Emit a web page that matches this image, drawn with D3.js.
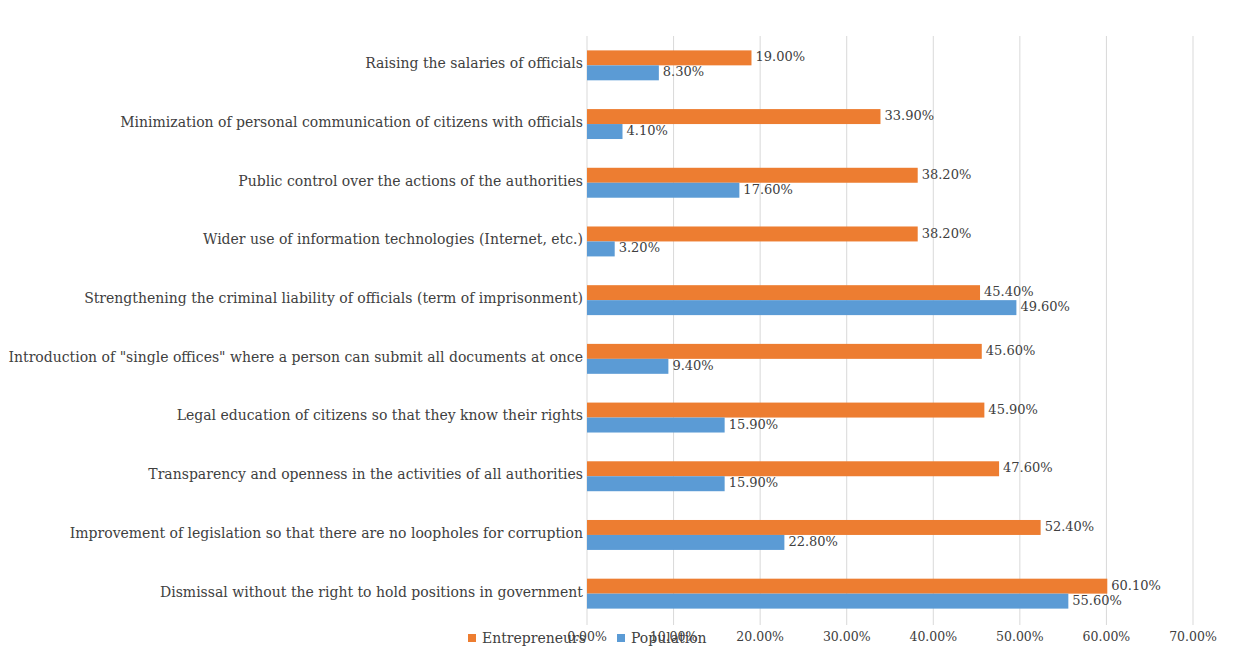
<!DOCTYPE html>
<html>
<head>
<meta charset="utf-8">
<script src="https://cdn.jsdelivr.net/npm/d3@7"></script>
<style>
  html, body { margin: 0; padding: 0; background: #fff; }
  svg text { font-family: "DejaVu Serif", "Liberation Serif", serif; fill: #404040; }
</style>
</head>
<body>
<svg id="chart" width="1234" height="671"></svg>
<script>
const categories = [
  "Raising the salaries of officials",
  "Minimization of personal communication of citizens with officials",
  "Public control over the actions of the authorities",
  "Wider use of information technologies (Internet, etc.)",
  "Strengthening the criminal liability of officials (term of imprisonment)",
  "Introduction of \"single offices\" where a person can submit all documents at once",
  "Legal education of citizens so that they know their rights",
  "Transparency and openness in the activities of all authorities",
  "Improvement of legislation so that there are no loopholes for corruption",
  "Dismissal without the right to hold positions in government"
];
const entrepreneurs = [19.0, 33.9, 38.2, 38.2, 45.4, 45.6, 45.9, 47.6, 52.4, 60.1];
const population = [8.3, 4.1, 17.6, 3.2, 49.6, 9.4, 15.9, 15.9, 22.8, 55.6];
const xTicks = [0, 10, 20, 30, 40, 50, 60, 70];
const seriesNames = ["Entrepreneurs", "Population"];
const seriesColors = ["#ED7D31", "#5B9BD5"];

const svg = d3.select("#chart");
const plotLeft = 587, plotRight = 1193, plotTop = 36, plotBottom = 623;

const x = d3.scaleLinear().domain([0, 70]).range([plotLeft, plotRight]);
const y = d3.scaleBand().domain(categories).range([plotTop, plotBottom]).paddingInner(0.49).paddingOuter(0.245);
const inner = d3.scaleBand().domain(seriesNames).range([0, y.bandwidth()]);

// Vertical gridlines
svg.append("g").selectAll("line").data(xTicks).join("line")
  .attr("x1", d => x(d)).attr("x2", d => x(d))
  .attr("y1", plotTop).attr("y2", plotBottom + 2)
  .attr("stroke", "#d9d9d9").attr("stroke-width", 1);

// Tick labels
svg.append("g").selectAll("text").data(xTicks).join("text")
  .attr("x", d => x(d)).attr("y", 641)
  .attr("text-anchor", "middle")
  .style("font-size", "12.5px")
  .text(d => d.toFixed(2) + "%");

// Category labels
svg.append("g").selectAll("text").data(categories).join("text")
  .attr("x", plotLeft - 4)
  .attr("y", d => y(d) + y.bandwidth() / 2 - 2)
  .attr("dy", "0.35em")
  .attr("text-anchor", "end")
  .style("font-size", "14px")
  .text(d => d);

const series = [entrepreneurs, population];
series.forEach((vals, si) => {
  const g = svg.append("g");
  const rows = categories.map((c, i) => ({ c, v: vals[i] }));
  g.selectAll("rect").data(rows).join("rect")
    .attr("x", x(0))
    .attr("y", d => y(d.c) + inner(seriesNames[si]))
    .attr("width", d => x(d.v) - x(0))
    .attr("height", inner.bandwidth())
    .attr("fill", seriesColors[si]);
  g.selectAll("text").data(rows).join("text")
    .attr("x", d => x(d.v) + 4)
    .attr("y", d => y(d.c) + inner(seriesNames[si]) + inner.bandwidth() / 2 - 1)
    .attr("dy", "0.35em")
    .style("font-size", "13px")
    .text(d => d.v.toFixed(2) + "%");
});

// Legend
const legend = svg.append("g");
const legendX = [468, 617];
seriesNames.forEach((n, i) => {
  legend.append("rect").attr("x", legendX[i]).attr("y", 634).attr("width", 8).attr("height", 8).attr("fill", seriesColors[i]);
  legend.append("text").attr("x", legendX[i] + 14).attr("y", 643).style("font-size", "14px").text(n);
});
</script>
</body>
</html>
